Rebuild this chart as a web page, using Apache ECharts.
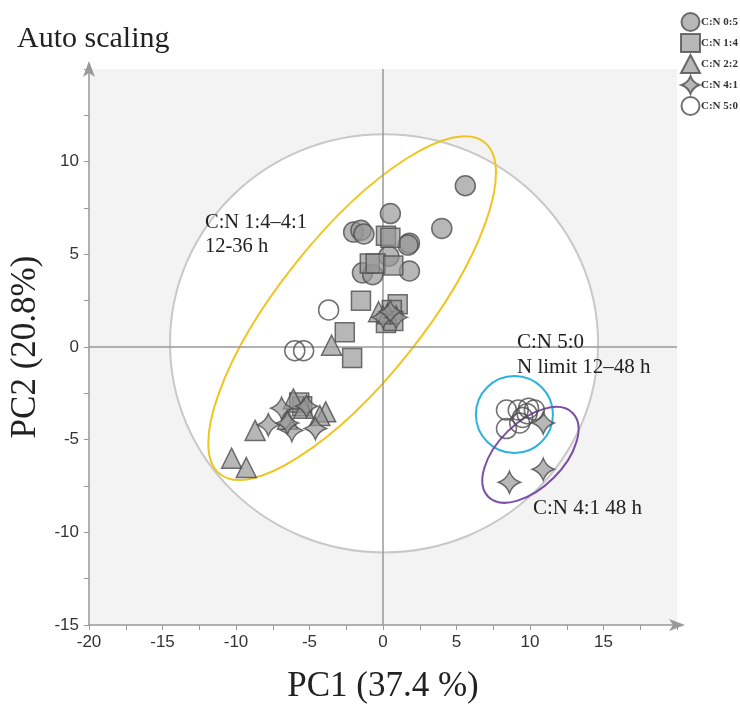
<!DOCTYPE html>
<html>
<head>
<meta charset="utf-8">
<script src="https://cdn.jsdelivr.net/npm/echarts@6/dist/echarts.min.js"></script>
<style>
  html, body { margin: 0; padding: 0; background: #fff; }
  #main { width: 740px; height: 709px; }
</style>
</head>
<body>
<div id="main"></div>
<script>
// 各组样本的 PC1 / PC2 得分
var seriesNames = ['C:N 0:5', 'C:N 1:4', 'C:N 2:2', 'C:N 4:1', 'C:N 5:0'];

var cn05 = [[5.6, 8.7], [0.5, 7.2], [-2.0, 6.2], [-1.5, 6.3], [-1.3, 6.1], [4.0, 6.4],
  [1.8, 5.6], [1.7, 5.5], [0.4, 4.9], [-1.4, 4.0], [-0.7, 3.9], [1.8, 4.1]];
var cn14 = [[0.2, 6.0], [0.5, 5.9], [-0.9, 4.5], [-0.5, 4.5], [0.7, 4.4], [-1.5, 2.5],
  [1.0, 2.3], [0.6, 2.0], [-2.6, 0.8], [-2.1, -0.6], [0.2, 1.3], [0.7, 1.4],
  [-5.5, -3.2], [-5.7, -3.0]];
var cn22 = [[-3.5, 0.1], [-0.3, 1.9], [0.3, 1.8], [-8.7, -4.5], [-10.3, -6.0], [-9.3, -6.5],
  [-3.9, -3.5], [-4.3, -3.7], [-6.1, -2.8], [-6.5, -3.9], [-5.4, -3.3]];
var cn41 = [[-7.8, -4.2], [-6.9, -3.3], [-6.2, -4.5], [-4.6, -4.4], [-6.5, -4.1], [-5.2, -3.2],
  [0.0, 1.6], [0.9, 1.6], [0.5, 1.9], [10.9, -4.1], [8.6, -7.3], [10.9, -6.6]];
var cn50 = [[-3.7, 2.0], [-6.0, -0.2], [-5.4, -0.2], [8.4, -3.4], [9.2, -3.4], [9.9, -3.3],
  [10.3, -3.4], [8.4, -4.4], [9.3, -4.1], [9.5, -3.8], [9.8, -3.6]];

// 椭圆: [中心x, 中心y, 长轴端点x, 长轴端点y, 短/长轴比]
var hotelling = [[0.07, 0.2, 14.63, 0.2, 0.977]];
var groupMid = [[-2.1, 2.1, 6.9, 11.05, 0.34]];
var groupN0 = [[8.94, -3.64, 11.56, -3.64, 1]];
var group41 = [[10.03, -5.82, 12.9, -3.56, 0.55]];

var xTicks = { min: -20, max: 20, step: 5 };
var yTicks = { min: -15, max: 15, step: 5 };

var starPath = 'path://M0,-10 Q2.6,-2.6 10,0 Q2.6,2.6 0,10 Q-2.6,2.6 -10,0 Q-2.6,-2.6 0,-10 Z';
var serif = 'Liberation Serif';

function ellipseItem(params, api) {
  var c = api.coord([api.value(0), api.value(1)]);
  var e = api.coord([api.value(2), api.value(3)]);
  var dx = e[0] - c[0], dy = e[1] - c[1];
  var r = Math.sqrt(dx * dx + dy * dy);
  return {
    type: 'ellipse',
    x: c[0], y: c[1],
    rotation: Math.atan2(-dy, dx),
    shape: { cx: 0, cy: 0, rx: r, ry: r * api.value(4) },
    style: api.style()
  };
}

function ellipseSeries(data, stroke, fill, z) {
  return {
    type: 'custom', renderItem: ellipseItem, data: data, z: z, silent: true,
    itemStyle: { color: fill, borderColor: stroke, borderWidth: 2 },
    encode: { x: 0, y: 1 }
  };
}

var pointStyle = { color: 'rgba(150,150,150,0.85)', borderColor: '#4d4d4d', borderWidth: 1.5 };

var myChart = echarts.init(document.getElementById('main'));
myChart.setOption({
  animation: false,
  title: {
    text: 'Auto scaling', left: 12, top: 19,
    textStyle: { fontFamily: serif, fontSize: 30, fontWeight: 'normal', color: '#222' }
  },
  legend: {
    data: seriesNames, orient: 'vertical', left: 675, top: 7,
    itemWidth: 19, itemHeight: 18, itemGap: 1,
    textStyle: { fontFamily: serif, fontSize: 11, fontWeight: 'bold', color: '#333', padding: [0, 0, 0, -4] }
  },
  grid: {
    left: 89, top: 69, width: 588, height: 564, show: true,
    backgroundColor: '#f3f3f3', borderWidth: 0
  },
  xAxis: {
    type: 'value', min: xTicks.min, max: xTicks.max, interval: xTicks.step,
    name: 'PC1 (37.4 %)', nameLocation: 'middle', nameGap: 44,
    nameTextStyle: { fontFamily: serif, fontSize: 35, color: '#222' },
    axisLine: { onZero: false, lineStyle: { color: '#999', width: 1.5 }, symbol: ['none', 'arrow'], symbolSize: [9, 16], symbolOffset: [0, 8] },
    axisTick: { length: 5, lineStyle: { color: '#999' } },
    minorTick: { show: true, splitNumber: 2, length: 5, lineStyle: { color: '#999' } },
    axisLabel: { showMaxLabel: false, margin: 9, fontFamily: 'Liberation Sans', fontSize: 17, color: '#333' },
    splitLine: { show: false }
  },
  yAxis: {
    type: 'value', min: yTicks.min, max: yTicks.max, interval: yTicks.step,
    name: 'PC2 (20.8%)', nameLocation: 'middle', nameGap: 29,
    nameTextStyle: { fontFamily: serif, fontSize: 35, color: '#222' },
    axisLine: { onZero: false, lineStyle: { color: '#999', width: 1.5 }, symbol: ['none', 'arrow'], symbolSize: [9, 16], symbolOffset: [0, 8] },
    axisTick: { length: 5, lineStyle: { color: '#999' } },
    minorTick: { show: true, splitNumber: 2, length: 5, lineStyle: { color: '#999' } },
    axisLabel: { showMaxLabel: false, margin: 10, fontFamily: 'Liberation Sans', fontSize: 17, color: '#333' },
    splitLine: { show: false }
  },
  graphic: [
    { type: 'text', left: 205, top: 211, z: 10,
      style: { text: 'C:N 1:4\u20134:1\n12-36 h', font: '20.5px ' + serif, fill: '#222', lineHeight: 24 } },
    { type: 'text', left: 517, top: 330, z: 10,
      style: { text: 'C:N 5:0\nN limit 12\u201348 h', font: '21px ' + serif, fill: '#222', lineHeight: 25 } },
    { type: 'text', left: 533, top: 498, z: 10,
      style: { text: 'C:N 4:1 48 h', font: '21px ' + serif, fill: '#222' } }
  ],
  series: [
    ellipseSeries(hotelling, '#c8c8c8', '#ffffff', 1),
    {
      type: 'custom', renderItem: ellipseItem, data: groupMid, z: 3, silent: true,
      itemStyle: { color: 'none', borderColor: '#f0c520', borderWidth: 2 },
      encode: { x: 0, y: 1 },
      markLine: {
        silent: true, symbol: 'none', label: { show: false },
        lineStyle: { color: '#999', width: 1.5, type: 'solid' },
        data: [{ xAxis: 0 }, { yAxis: 0 }]
      }
    },
    ellipseSeries(groupN0, '#2bb3e0', 'none', 3),
    ellipseSeries(group41, '#7d4ea8', 'none', 3),
    { name: seriesNames[0], type: 'scatter', data: cn05, symbol: 'circle', symbolSize: 20, z: 5, itemStyle: pointStyle },
    { name: seriesNames[1], type: 'scatter', data: cn14, symbol: 'rect', symbolSize: 19, z: 5, itemStyle: pointStyle },
    { name: seriesNames[2], type: 'scatter', data: cn22, symbol: 'triangle', symbolSize: 20, z: 5, itemStyle: pointStyle },
    { name: seriesNames[3], type: 'scatter', data: cn41, symbol: starPath, symbolSize: 22, z: 5, itemStyle: pointStyle },
    { name: seriesNames[4], type: 'scatter', data: cn50, symbol: 'circle', symbolSize: 20, z: 5,
      itemStyle: { color: 'rgba(255,255,255,0)', borderColor: '#4d4d4d', borderWidth: 1.5 } }
  ]
});
</script>
</body>
</html>
